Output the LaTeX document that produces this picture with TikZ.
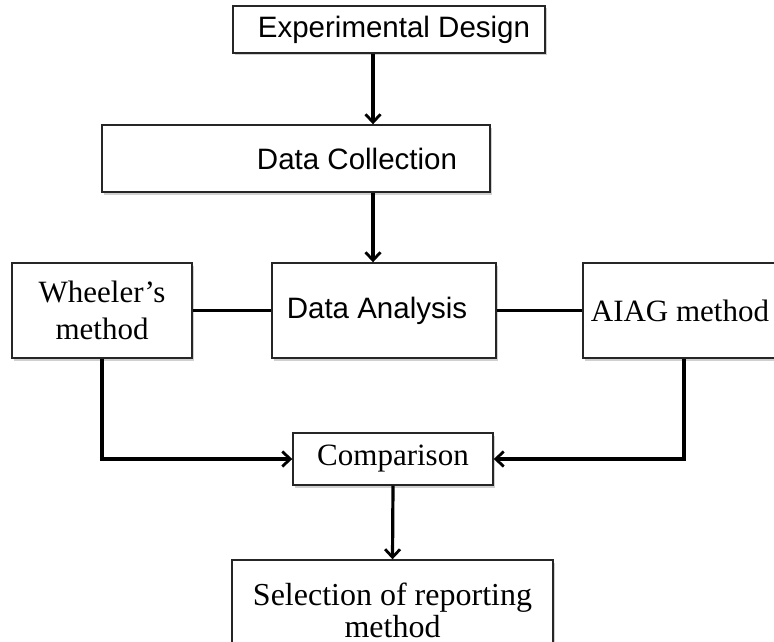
\documentclass[tikz,border=0pt]{standalone}
\usepackage{fontspec}
\setmainfont{Liberation Serif}
\newfontfamily\sansf{Liberation Sans}
\usetikzlibrary{arrows.meta,shadows}
\begin{document}
\begin{tikzpicture}[x=1pt,y=-1pt,
  box/.style={draw=black!85, line width=1.4pt, fill=white, inner sep=0pt,
    drop shadow={shadow xshift=1.5pt, shadow yshift=-2.5pt, fill=black!30, opacity=0.6}},
  sbox/.style={box, font=\sansf\fontsize{29.5}{33}\selectfont},
  rbox/.style={box, align=center, font=\fontsize{31}{37}\selectfont},
  conn/.style={line width=3.2pt, black},
  arr/.style={conn, -{Straight Barb[length=8pt,width=15pt,line width=2.8pt]}}]
\useasboundingbox (0,0) rectangle (774,642);
\clip (0,0) rectangle (774,642);
\fill[white] (0,0) rectangle (774,642);
\node[sbox, minimum width=312pt, minimum height=47pt] (ed) at (389,29.5) {\hspace*{10pt}Experimental Design};
\node[sbox, minimum width=388pt, minimum height=67pt] (dc) at (296,158.5) {\hspace*{122pt}Data Collection};
\node[rbox, minimum width=180pt, minimum height=95pt] (wh) at (102,310.5) {Wheeler’s\\method};
\node[sbox, minimum width=224pt, minimum height=95pt] (da) at (384,310.5) {Data Analysis\hspace*{14pt}};
\node[rbox, minimum width=202pt, minimum height=95pt] (ai) at (684,310.5) {AIAG method\hspace*{8pt}};
\node[rbox, minimum width=200pt, minimum height=52pt] (cmp) at (393,459) {Comparison};
\node[rbox, minimum width=321pt, minimum height=100pt, font=\fontsize{32}{32}\selectfont] (sel) at (392.5,610) {Selection of reporting\\method};
\coordinate (xa) at (373,0);
\draw[arr] (ed.south -| xa) -- (dc.north -| xa);
\draw[arr] (dc.south -| xa) -- (da.north -| xa);
\draw[conn] (wh) -- (da);
\draw[conn] (da) -- (ai);
\draw[arr] (wh.south) |- (cmp.west);
\draw[arr] (ai.south) |- (cmp.east);
\draw[arr] (cmp.south) -- (sel.north);
\end{tikzpicture}
\end{document}
